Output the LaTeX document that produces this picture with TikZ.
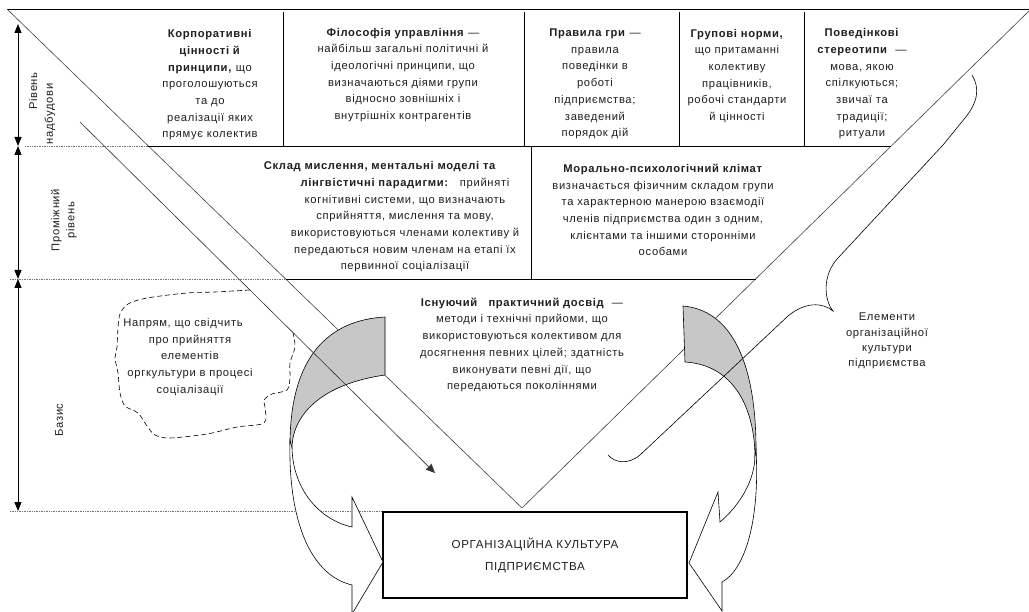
\documentclass[tikz,border=0pt]{standalone}
\usepackage{fontspec}
\setmainfont{Liberation Sans}[LetterSpace=6]
\usetikzlibrary{arrows.meta}
\begin{document}
\begin{tikzpicture}[x=1pt,y=-1pt,
  txt/.style={font=\fontsize{11.2}{16.7}\selectfont, align=center, text=black!88, inner sep=0pt},
  tbl/.style={line width=0.7pt, draw=black},
  vline/.style={line width=0.6pt, draw=black!75},
  dotl/.style={densely dotted, line width=0.7pt, draw=black!55},
  axis/.style={line width=0.9pt, {Triangle[width=7pt,length=9pt]}-{Triangle[width=7pt,length=9pt]}},
  shade/.style={fill=black!22, draw=black, line width=0.6pt},
  front/.style={fill=white, draw=black, line width=0.6pt},
  cloudline/.style={line width=0.6pt, dash pattern=on 5pt off 3pt},
  thin/.style={line width=0.6pt, draw=black!80},
]
\useasboundingbox (0,0) rectangle (1029,612);
\clip (0,0) rectangle (1029,612);
\fill[white] (0,0) rectangle (1029,612);

% funnel and table
\draw[tbl] (7,9) -- (1029,9);
\draw[vline] (7,9) -- (522,508) -- (1031,9);
\draw[tbl] (148.4,146) -- (891.3,146);
\draw[tbl] (285.7,279) -- (755.6,279);
\foreach \x in {283,524,679,804} \draw[tbl] (\x,12) -- (\x,146);
\draw[tbl] (531,146) -- (531,279);

% dotted level lines
\draw[dotl] (25,146) -- (148,146);
\draw[dotl] (10,279) -- (285,279);
\draw[dotl] (10,511) -- (383,511);

% level axis
\coordinate (ax0) at (18,24);
\coordinate (ax1) at (18,146);
\coordinate (ax2) at (18,279);
\coordinate (ax3) at (18,511);
\draw[axis] (ax0) -- (ax1);
\draw[axis] (ax1) -- (ax2);
\draw[axis] (ax2) -- (ax3);

% central box
\node[draw, line width=1.4pt, minimum width=304pt, minimum height=86pt, inner sep=0pt, align=center,
      font=\fontsize{11.6}{22}\selectfont, text=black!88] (box) at (535,555) {ОРГАНІЗАЦІЙНА КУЛЬТУРА\\ ПІДПРИЄМСТВА};

% left curved arrow
\draw[shade] (385,317) .. controls (330,320) and (290,355) .. (290,445) -- (292,448)
   .. controls (292,420) and (315,385) .. (385,375) -- cycle;
\draw[front] (290,440) .. controls (288,520) and (310,575) .. (352,585) -- (352,614) -- (383,562)
   -- (352,497) -- (352,527) .. controls (320,520) and (293,490) .. (292,448) -- cycle;

% right curved arrow
\draw[shade] (683,306) .. controls (730,310) and (757,360) .. (756,455) -- (755,458)
   .. controls (755,410) and (735,365) .. (685,362) -- cycle;
\draw[front] (756,450) .. controls (760,520) and (745,570) .. (722,582) -- (722,611) -- (689,563)
   -- (718,492) -- (720,522) .. controls (740,505) and (755,480) .. (755,455) -- cycle;

% brace
\draw[thin, draw=black] (608,455) .. controls (615,463) and (628,465) .. (640,455) -- (788,316)
   .. controls (805,302) and (822,302) .. (833,311)
   .. controls (824,300) and (822,275) .. (838,258) -- (943,145) -- (965,118)
   .. controls (978,102) and (980,88) .. (972,75);

% dashed cloud
\draw[cloudline] plot[smooth, tension=0.5] coordinates {(250,290) (215,292) (187,293) (147,298) (128,304)
  (120,314) (118,328) (117,347) (115,358) (118,373) (120,393) (125,406) (138,413) (147,426) (155,435)
  (170,438) (207,434) (237,427) (264,423) (265,407) (264,400) (272,394) (287,390) (290,378) (290,363)
  (295,347) (293,333)};

% thin arrow
\coordinate (a0) at (80,122);
\coordinate (a1) at (435,473);
\draw[thin, -{Triangle[width=8pt,length=9pt]}] (a0) -- (a1);

% top row texts
\node[txt] (c1) at (210,85) {\textbf{Корпоративні}\\ \textbf{цінності й}\\ \textbf{принципи,} що\\ проголошуються\\ та до\\ реалізації яких\\ прямує колектив};
\node[txt] (c2) at (403,75) {\textbf{Філософія управління} —\\ найбільш загальні політичні й\\ ідеологічні принципи, що\\ визначаються діями групи\\ відносно зовнішніх і\\ внутрішніх контрагентів};
\node[txt] (c3) at (595,84) {\textbf{Правила гри} —\\ правила\\ поведінки в\\ роботі\\ підприємства;\\ заведений\\ порядок дій};
\node[txt] (c4) at (737,76) {\textbf{Групові норми,}\\ що притаманні\\ колективу\\ працівників,\\ робочі стандарти\\ й цінності};
\node[txt] (c5) at (862,84) {\textbf{Поведінкові}\\ \textbf{стереотипи} \ —\\ мова, якою\\ спілкуються;\\ звичаї та\\ традиції;\\ ритуали};

% middle row texts
\node[txt] (m1) at (405,217) {\textbf{Склад мислення, ментальні моделі та}\hspace*{50pt}\\ \textbf{лінгвістичні парадигми:}\quad прийняті\\ когнітивні системи, що визначають\\ сприйняття, мислення та мову,\\ використовуються членами колективу й\\ передаються новим членам на етапі їх\\ первинної соціалізації};
\node[txt] (m2) at (663,210) {\textbf{Морально-психологічний клімат}\\ визначається фізичним складом групи\\ та характерною манерою взаємодії\\ членів підприємства один з одним,\\ клієнтами та іншими сторонніми\\ особами};

% basis text
\node[txt] (b1) at (522,345) {\textbf{Існуючий\quad практичний досвід} \ —\\ методи і технічні прийоми, що\\ використовуються колективом для\\ досягнення певних цілей; здатність\\ виконувати певні дії, що\\ передаються поколіннями};

% cloud text
\node[txt] (ct) at (190,357) {Напрям, що свідчить\hspace*{14pt}\\ про прийняття\\ елементів\\ оргкультури в процесі\\ соціалізації};

% right label
\node[txt, font=\fontsize{11.2}{15.3}\selectfont] (el) at (887,341) {Елементи\\ організаційної\\ культури\\ підприємства};

% level labels
\node[txt, rotate=90] (l1a) at (33,91) {Рівень};
\node[txt, rotate=90] (l1b) at (50,114) {надбудови};
\node[txt, rotate=90, font=\fontsize{11.2}{15}\selectfont] (l2) at (64,220) {Проміжний\\ рівень};
\node[txt, rotate=90] (l3) at (59,420) {Базис};
\end{tikzpicture}
\end{document}
